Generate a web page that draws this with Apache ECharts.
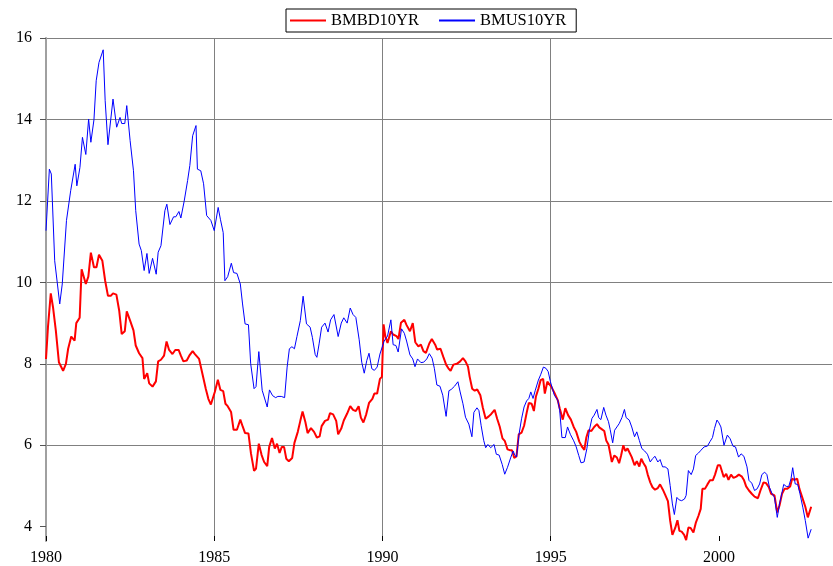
<!DOCTYPE html>
<html>
<head>
<meta charset="utf-8">
<script src="https://cdn.jsdelivr.net/npm/echarts@6/dist/echarts.min.js"></script>
<style>html,body{margin:0;padding:0;background:#fff}#c{width:833px;height:566px}</style>
</head>
<body>
<div id="c"></div>
<script>
// months counted from Jan 1980 (0 = Jan 1980)
const bdMonths = [0,0.7,1.7,2.5,3.5,4.6,6.1,7.1,7.9,9,10.2,10.8,12,12.7,14.2,15.1,16,17.1,18,18.9,20.1,21.1,22.1,23.1,23.9,25.1,26.1,27,28.1,28.8,30,31.2,32,33.2,34.4,35,36.1,36.8,38,39.2,40,41,42.1,43,43.9,45.1,46.1,47.3,48.1,49,50.2,51.1,52.3,53.1,53.8,54.6,55.8,57,57.9,58.8,60.2,61.3,62.2,63.2,64,64.8,66,66.9,68.1,69.3,70.2,71,72.2,73.1,74.2,74.9,75.9,76.9,77.8,78.9,79.6,80.6,81.6,82.4,83.3,84.1,84.9,85.7,86.6,87.8,88.6,89.8,90.7,91.5,92.5,93.3,94.5,95.6,96.6,97.6,98.3,99.5,100.6,101.3,102.4,103.5,104.2,105.3,106.2,107.4,108.5,109.5,110.5,111.5,112.3,113.2,114.2,115.2,116.4,117.1,118.1,119.1,119.8,120.4,121,121.8,123,123.8,125,125.7,126.6,127.8,128.6,129.8,130.8,131.7,132.8,133.7,134.6,135.5,136.7,137.6,138.8,139.5,140.7,141.7,142.7,143.5,144.3,145.3,146.5,147.7,148.7,149.6,150.5,151.1,152,152.9,153.8,154.9,155.8,156.8,157.9,158.8,160,160.9,161.8,162.8,163.6,164.6,165.4,166.2,167,167.8,168.6,169.6,170.5,171.4,172.2,173.2,174,174.7,175.6,176.4,177.3,177.9,178.8,179.5,180.2,181.3,182.5,183.2,184.3,185.2,186.2,187.2,188.2,189.1,190.2,191.2,192,192.7,193.5,194.5,195.5,196.5,197.3,198.3,199.1,199.8,200.6,201.2,201.8,202.7,203.6,204.4,205.1,205.9,206.6,207.4,208.1,208.9,209.9,210.7,211.6,212.3,213.1,213.9,214.6,215.5,216.3,217.2,218.2,219,220,220.8,221.8,222.6,223.4,224.4,225.2,225.9,226.7,227.6,228.3,229.1,229.9,230.9,231.8,232.7,233.5,234.1,235,235.9,236.8,237.8,238.6,239.6,240.4,241.7,242.6,243.4,244.3,245.2,246.2,247.1,248.2,248.9,249.7,250.7,251.7,252.7,253.9,254.8,255.9,256.8,257.8,258.6,259.8,260.8,261.6,262.5,263.4,264.3,265.4,266.1,266.9,267.9,268.7,269.7,270.8,271.7,272.9];
const bdYields = [8.12,8.9,9.73,9.39,8.82,8.04,7.83,8.0,8.37,8.67,8.57,9.0,9.13,10.32,9.96,10.14,10.73,10.37,10.37,10.68,10.53,10.04,9.67,9.67,9.73,9.7,9.31,8.73,8.8,9.29,9.06,8.82,8.45,8.26,8.14,7.63,7.77,7.52,7.44,7.57,8.06,8.1,8.2,8.55,8.34,8.24,8.34,8.34,8.2,8.06,8.08,8.2,8.31,8.24,8.28,8.12,7.75,7.38,7.14,7.0,7.31,7.61,7.36,7.33,7.02,6.96,6.82,6.38,6.38,6.63,6.45,6.3,6.29,5.8,5.37,5.43,6.04,5.76,5.59,5.49,5.96,6.18,5.92,6.04,5.81,5.96,5.96,5.67,5.61,5.69,6.06,6.33,6.6,6.83,6.57,6.3,6.42,6.33,6.19,6.22,6.47,6.6,6.63,6.79,6.76,6.6,6.27,6.41,6.61,6.78,6.96,6.87,6.84,6.96,6.68,6.56,6.76,7.04,7.14,7.27,7.27,7.63,7.68,8.97,8.68,8.51,8.8,8.72,8.68,8.61,9.01,9.08,8.95,8.8,9.0,8.53,8.43,8.47,8.31,8.27,8.5,8.61,8.47,8.35,8.37,8.17,7.98,7.89,7.83,7.98,8.0,8.06,8.14,8.06,7.93,7.68,7.39,7.34,7.37,7.23,6.92,6.65,6.71,6.77,6.87,6.65,6.46,6.17,6.11,5.9,5.88,5.88,5.69,5.73,6.27,6.31,6.48,6.79,7.04,7.02,6.84,7.19,7.39,7.6,7.63,7.27,7.56,7.55,7.44,7.29,7.11,6.91,6.63,6.91,6.74,6.63,6.45,6.33,6.09,5.96,5.89,6.19,6.37,6.35,6.45,6.52,6.44,6.39,6.35,6.12,6.02,5.81,5.59,5.75,5.7,5.56,5.75,6.0,5.86,5.92,5.89,5.71,5.51,5.61,5.48,5.67,5.56,5.47,5.28,5.09,4.97,4.91,4.95,5.04,4.91,4.79,4.63,4.15,3.8,3.97,4.16,3.9,3.88,3.8,3.67,3.98,3.97,3.86,4.11,4.27,4.44,4.93,4.93,5.04,5.14,5.14,5.28,5.51,5.51,5.22,5.3,5.15,5.28,5.2,5.23,5.28,5.23,5.15,4.99,4.89,4.81,4.74,4.7,4.89,5.09,5.07,4.97,4.81,4.77,4.35,4.52,4.81,4.93,4.93,4.99,5.18,5.15,5.18,4.93,4.72,4.49,4.23,4.49];

const usMonths = [0,1.2,1.9,3.1,4.9,5.8,7.3,8.8,10.4,11,12.1,13,14.2,15.2,16,17.1,17.9,18.9,20.4,21.1,22.1,23.9,25.2,26.4,27,28.1,28.8,30,31.2,32,33.2,34,35,36,36.8,38,39.3,40,41,42.4,43.1,44.2,45.5,46.3,47.4,48.1,49.3,50.5,51.3,52.3,53.5,54,55.2,56.2,57.3,58.8,60,61.4,62.2,63.2,63.8,64.8,66.1,66.9,68.1,69.3,70.1,71,72.2,73,74.2,74.9,75.9,77.1,77.8,78.9,79.7,80.8,81.9,82.7,83.9,85.1,86,86.8,87.7,88.6,89.5,90.7,91.7,92.9,94.2,95,96,96.6,97.4,98.3,99.5,100.6,101.5,102.7,104.2,105.3,106.2,107.4,108.5,109.5,110.5,111.7,112.6,113.5,114.4,115.2,116.2,117.1,118.1,119.1,120.6,121.8,123,123.8,124.8,125.6,126.8,127.8,128.6,129.8,130.8,131.6,132.5,133.7,134.7,135.8,136.7,137.7,138.5,139.4,140.5,141.5,142.7,143.7,144.5,145.7,146.9,147.7,148.7,149.6,150.8,151.9,152.6,153.7,154.4,155.2,156.1,156.8,157.6,158.6,159.8,160.6,161.6,162.7,163.6,164.6,165.7,166.6,167.2,167.8,168.7,169.6,170.5,171.4,172.2,172.9,173.7,174.5,175.6,176.4,177.4,178.3,179.1,179.9,181.3,182.5,183.2,184,185.2,186,187,188.2,189.1,190,190.8,191.9,192.9,193.8,194.7,195.5,196.5,197.1,197.9,198.9,199.7,200.6,201.2,202.1,202.8,203.6,204.4,205.4,206.3,206.9,208,208.9,209.9,210.7,211.6,212.5,213.5,214.5,215.5,216.3,217.2,218.2,219,219.9,220.8,221.8,222.6,223.4,224.1,225,225.8,226.7,227.7,228.3,229.1,230.1,230.9,231.7,232.7,233.6,234.7,235.9,236.8,237.7,238.4,239.3,240,240.7,241.8,243,244,245,245.9,247,247.9,248.9,250,250.7,251.7,252.7,253.6,254.5,255.3,256.3,257.1,258,258.9,259.8,260.8,261.6,262.4,263.1,264,264.9,265.7,266.3,267.2,268.1,268.9,269.9,270.8,271.8,272.9];
const usYields = [11.27,12.78,12.66,10.53,9.47,9.96,11.52,12.25,12.9,12.37,12.82,13.56,13.14,14.01,13.44,13.99,14.95,15.4,15.71,14.46,13.38,14.5,13.81,14.05,13.9,13.9,14.34,13.48,12.74,11.76,10.94,10.78,10.29,10.71,10.22,10.59,10.2,10.74,10.9,11.76,11.92,11.42,11.61,11.61,11.74,11.58,12.0,12.5,12.87,13.6,13.85,12.78,12.74,12.42,11.64,11.52,11.27,11.84,11.55,11.22,10.04,10.14,10.47,10.24,10.22,9.96,9.47,8.98,8.96,8.0,7.39,7.44,8.3,7.35,7.31,6.94,7.36,7.22,7.17,7.2,7.2,7.17,7.92,8.37,8.42,8.37,8.67,9.06,9.66,8.98,8.9,8.65,8.23,8.16,8.49,8.9,9.0,8.78,9.08,9.21,8.67,9.0,9.13,9.0,9.37,9.21,9.14,8.59,8.04,7.77,8.08,8.26,7.88,7.84,7.92,8.24,8.56,8.68,9.08,8.47,8.45,8.29,8.86,8.75,8.56,8.22,8.12,7.93,8.12,8.03,8.04,8.12,8.25,8.14,7.89,7.48,7.45,7.23,6.71,7.34,7.37,7.45,7.56,7.31,7.02,6.69,6.52,6.21,6.81,6.92,6.85,6.48,6.12,5.94,6.02,5.94,6.02,5.78,5.76,5.53,5.29,5.46,5.69,5.86,5.76,5.71,6.27,6.65,6.94,7.09,7.15,7.31,7.15,7.35,7.6,7.73,7.92,7.89,7.81,7.56,7.23,7.11,6.86,6.19,6.19,6.45,6.27,6.11,5.96,5.75,5.57,5.59,5.92,6.37,6.66,6.74,6.88,6.68,6.63,6.93,6.74,6.58,6.39,6.06,6.37,6.45,6.53,6.68,6.88,6.68,6.62,6.45,6.21,6.33,6.12,5.92,5.86,5.78,5.59,5.67,5.73,5.59,5.65,5.47,5.47,5.42,5.01,4.56,4.3,4.72,4.66,4.64,4.68,4.77,5.38,5.28,5.42,5.75,5.81,5.88,5.96,5.98,6.09,6.19,6.41,6.62,6.55,6.45,6.0,6.25,6.16,5.98,5.96,5.71,5.79,5.73,5.47,5.14,5.07,4.89,4.93,5.05,5.28,5.34,5.28,4.97,4.82,4.72,4.23,4.56,4.81,5.04,4.99,4.99,5.18,5.45,5.05,5.04,4.81,4.48,4.15,3.72,3.94];

const seriesNames = ['BMBD10YR', 'BMUS10YR'];
const xTicks = [1980, 1985, 1990, 1995, 2000];
const yTicks = [4, 6, 8, 10, 12, 14, 16];

const toPairs = (months, vals) => months.map((m, i) => [1980 + m / 12, vals[i]]);
const FONT = 'Liberation Serif';

const chart = echarts.init(document.getElementById('c'), null, {renderer: 'canvas'});
chart.setOption({
  animation: false,
  backgroundColor: '#ffffff',
  grid: {left: 46, right: 1, top: 38, bottom: 25, containLabel: false},
  legend: {
    top: 9, left: 286,
    data: [{name: seriesNames[0]}, {name: seriesNames[1]}],
    icon: 'rect', itemWidth: 36, itemHeight: 2, itemGap: 20,
    borderColor: '#000', borderWidth: 1, padding: [3, 10, 3, 4],
    textStyle: {fontFamily: FONT, fontSize: 16.5, color: '#000'}
  },
  xAxis: {
    type: 'value', min: 1980, max: 2003.36, interval: 5,
    axisLine: {show: false},
    axisTick: {show: true, inside: true, length: 5, lineStyle: {color: '#000'}, customValues: xTicks},
    axisLabel: {fontFamily: FONT, fontSize: 16, color: '#000', margin: 9, customValues: xTicks,
      formatter: v => String(Math.round(v))},
    splitLine: {show: true, showMinLine: false, showMaxLine: false, lineStyle: {color: '#808080', width: 1}}
  },
  yAxis: {
    type: 'value', min: 3.65, max: 16, splitNumber: 6,
    axisLine: {show: true, lineStyle: {color: '#a0a0a0', width: 2}},
    axisTick: {show: true, inside: false, length: 6, lineStyle: {color: '#555'}, customValues: yTicks},
    axisLabel: {fontFamily: FONT, fontSize: 16, color: '#000', margin: 14, customValues: yTicks},
    splitLine: {show: true, showMinLine: false, lineStyle: {color: '#808080', width: 1}}
  },
  series: [
    {name: seriesNames[0], type: 'line', data: toPairs(bdMonths, bdYields), showSymbol: false, symbol: 'none',
     color: '#ff0000', lineStyle: {color: '#ff0000', width: 2}, clip: false},
    {name: seriesNames[1], type: 'line', data: toPairs(usMonths, usYields), showSymbol: false, symbol: 'none',
     color: '#0000ff', lineStyle: {color: '#0000ff', width: 1}, clip: false}
  ]
});
</script>
</body>
</html>
